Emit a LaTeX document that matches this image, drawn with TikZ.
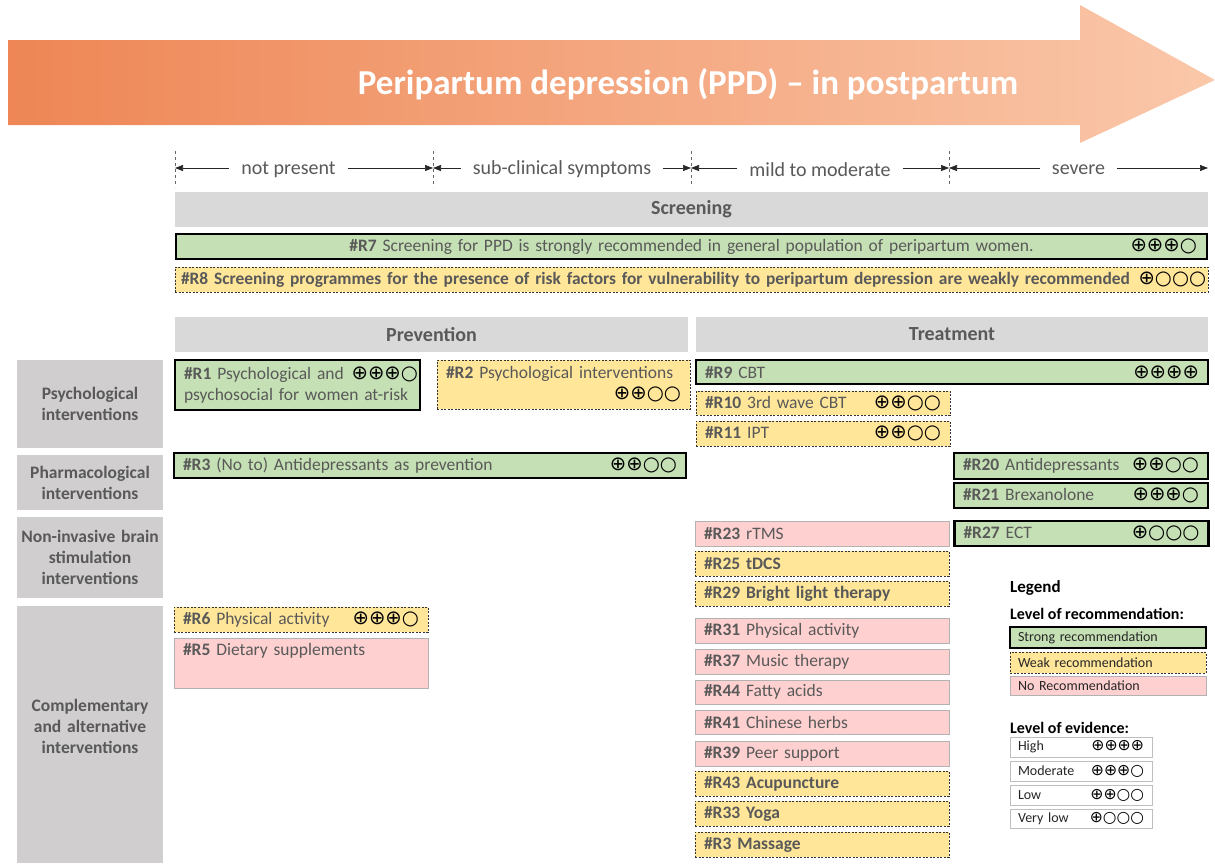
\documentclass[tikz,border=0pt]{standalone}
\usepackage{fontspec}
\setmainfont{Carlito}
\newfontfamily\symfont[Scale=1.12]{DejaVu Sans}
\usepackage{xcolor}
\usepackage{tikz}
\usetikzlibrary{arrows.meta,positioning}
\definecolor{strongc}{HTML}{C5E0B4}
\definecolor{weakc}{HTML}{FFE699}
\definecolor{norecc}{HTML}{FFD0D0}
\definecolor{headc}{HTML}{D9D9D9}
\definecolor{catc}{HTML}{D0CECE}
\definecolor{txt}{HTML}{595959}
\definecolor{arrowL}{HTML}{EE8655}
\definecolor{arrowR}{HTML}{FAC8AA}
\newcommand\rno[1]{\textbf{\#R#1}}
\newcommand\evid[1]{\hskip 6pt plus 1fill{\symfont\color{black}#1}}

\begin{document}
\begin{tikzpicture}[
  x=1pt, y=-1pt,
  font=\fontsize{17.5}{21}\selectfont, text=txt,
  box/.style={rectangle,inner xsep=9pt,inner ysep=0pt,align=left,
              text width=236pt,minimum height=25pt},
  wide/.style={text width=494pt},
  strong/.style={box,draw=black,line width=2.2pt,fill=strongc},
  weak/.style={box,draw=black!80,dash pattern=on 2pt off 1.5pt,line width=0.8pt,fill=weakc},
  norec/.style={box,draw=black!30,line width=0.8pt,fill=norecc},
  head/.style={fill=headc,font=\fontsize{20}{24}\selectfont\bfseries,minimum height=35pt},
  cat/.style={fill=catc,font=\fontsize{17.5}{21}\selectfont\bfseries,align=center,
              text width=140pt,minimum width=146pt},
  span/.style={{Triangle[length=8pt,width=6pt]}-{Triangle[length=8pt,width=6pt]},
               line width=0.7pt,draw=black!85},
  stage/.style={fill=white,inner xsep=12pt,yshift=-1.5pt,font=\fontsize{20}{24}\selectfont},
  tick/.style={draw=black!60,dashed,line width=0.6pt},
  legbox/.style={font=\fontsize{14}{16}\selectfont,text=black!85,inner xsep=8pt,
                 text width=180pt,minimum height=21pt},
  evbox/.style={box,legbox,draw=black!25,line width=1pt,fill=white,text width=126pt,minimum height=20pt},
  legtitle/.style={anchor=west,inner sep=0pt,text=black,font=\fontsize{17}{20}\selectfont\bfseries},
]
\useasboundingbox (0,0) rectangle (1215,863);

% ---- banner
\shade[left color=arrowL,right color=arrowR] (8,40) -- (1080,40) -- (1080,5) -- (1215,80)
  -- (1080,143) -- (1080,125) -- (8,125) -- cycle;
\node[text=white,font=\fontsize{35}{38}\selectfont\bfseries] (title) at (688,84)
  {Peripartum depression (PPD) – in postpartum};

% ---- severity stages
\foreach \x [count=\i from 0] in {175,433,691,949} {
  \coordinate (t\i) at (\x,168);
  \draw[tick] (\x,151) -- (\x,187);
}
\coordinate (t4) at (1208,168);
\draw[span] (t0) -- node[stage,pos=0.44] (s1) {not present} (t1);
\draw[span] (t1) -- node[stage] (s2) {sub-clinical symptoms} (t2);
\draw[span] (t2) -- node[stage] (s3) {mild to moderate} (t3);
\draw[span] (t3) -- node[stage] (s4) {severe} (t4);

% ---- screening
\node[head,minimum width=1033pt] (screen) at (691.5,209) {Screening};
\node[strong,wide,text width=1013pt,align=center] (r7) at (691.5,246.5)
  {\rno{7} Screening for PPD is strongly recommended in general population of peripartum women.};
\node[anchor=east,inner sep=0pt] (r7ev) at ([xshift=-11pt]r7.east) {\symfont\color{black}⊕⊕⊕○};
\node[weak,inner xsep=6pt,text width=1021pt,font=\fontsize{17.4}{21}\selectfont] (r8) at (691.5,279.5)
  {\makebox[\linewidth][s]{\textbf{\#R8 Screening programmes for the presence of risk factors for vulnerability to peripartum depression are weakly recommended}\hfill{\symfont\color{black}⊕○○○}\hskip-4pt}};

% ---- column heads
\node[head,minimum width=513pt] (prev) at (431.5,334.5) {Prevention};
\node[head,minimum width=512pt] (treat) at (952,334.5) {Treatment};

% ---- row heads
\node[cat,minimum height=88pt] (cpsy) at (90,404) {Psychological\\interventions};
\node[cat,minimum height=55pt] (cpha) at (90,482.5) {Pharmacological\\interventions};
\node[cat,minimum height=81pt] (cnib) at (90,557.5) {Non-invasive brain\\stimulation\\interventions};
\node[cat,minimum height=257pt] (ccam) at (90,734.5)
  {Complementary\\and alternative\\interventions\\[-5pt]\mbox{}};

% ---- prevention
\node[strong,text width=227pt,minimum height=50pt] (r1) at (297.5,385)
  {\makebox[\linewidth][s]{\rno{1} Psychological and\hfill{\symfont\color{black}⊕⊕⊕○}\hskip-7pt}\\
   psychosocial for women at-risk};
\node[weak,text width=235pt,minimum height=49pt] (r2) at (563.5,384.5)
  {\rno{2} Psychological interventions\\\evid{⊕⊕○○}};
\node[strong,wide] (r3) at (430,465.5) {\rno{3} (No to) Antidepressants as prevention\evid{⊕⊕○○}};
\node[weak] (r6) at (301,619.5) {\rno{6} Physical activity\evid{⊕⊕⊕○}};
\node[norec,minimum height=50pt] (r5) at (301,663) {\rno{5} Dietary supplements\\\strut};

% ---- treatment
\node[strong,wide,minimum height=24pt] (r9) at (952,372) {\rno{9} CBT\evid{⊕⊕⊕⊕}};
\node[weak,minimum height=24pt] (r10) at (823,403) {\rno{10} 3rd wave CBT\evid{⊕⊕○○}};
\node[weak] (r11) at (823,433.5) {\rno{11} IPT\evid{⊕⊕○○}};
\node[strong,minimum height=26pt] (r20) at (1081,466) {\rno{20} Antidepressants\evid{⊕⊕○○}};
\node[strong] (r21) at (1081,495.5) {\rno{21} Brexanolone\evid{⊕⊕⊕○}};
\node[strong] (r27) at (1081.5,533.5) {\rno{27} ECT\evid{⊕○○○}};
\node[norec] (r23) at (822,533.5) {\rno{23} rTMS};
\node[weak] (r25) at (822,563.5) {\textbf{\#R25 tDCS}};
\node[weak] (r29) at (822,593.5) {\textbf{\#R29 Bright light therapy}};
\node[norec] (r31) at (822,630.5) {\rno{31} Physical activity};
\node[norec] (r37) at (822,661.5) {\rno{37} Music therapy};
\node[norec,minimum height=24pt] (r44) at (822,692) {\rno{44} Fatty acids};
\node[norec,minimum height=24pt] (r41) at (822,722) {\rno{41} Chinese herbs};
\node[norec] (r39) at (822,753.5) {\rno{39} Peer support};
\node[weak] (r43) at (822,783.5) {\textbf{\#R43 Acupuncture}};
\node[weak] (r33) at (822,813.5) {\textbf{\#R33 Yoga}};
\node[weak] (r3m) at (822,844.5) {\textbf{\#R3 Massage}};

% ---- legend
\node[legtitle] (leg) at (1010,588) {Legend};
\node[legtitle,font=\fontsize{16}{19}\selectfont\bfseries] (legrec) at (1010,614) {Level of recommendation:};
\node[strong,legbox,line width=1.8pt] (lstrong) at (1108,637.5) {Strong recommendation};
\node[weak,legbox] (lweak) at (1108,662.5) {Weak recommendation};
\node[norec,legbox,minimum height=19pt] (lno) at (1108,685.5) {No Recommendation};
\node[legtitle,font=\fontsize{16}{19}\selectfont\bfseries] (legev) at (1010,728) {Level of evidence:};
\node[evbox] (evhi) at (1081,747) {High\evid{⊕⊕⊕⊕}};
\node[evbox] (evmod) at (1081,771) {Moderate\evid{⊕⊕⊕○}};
\node[evbox] (evlow) at (1081,795) {Low\evid{⊕⊕○○}};
\node[evbox,minimum height=19pt] (evvl) at (1081,818.5) {Very low\evid{⊕○○○}};
\end{tikzpicture}
\end{document}
